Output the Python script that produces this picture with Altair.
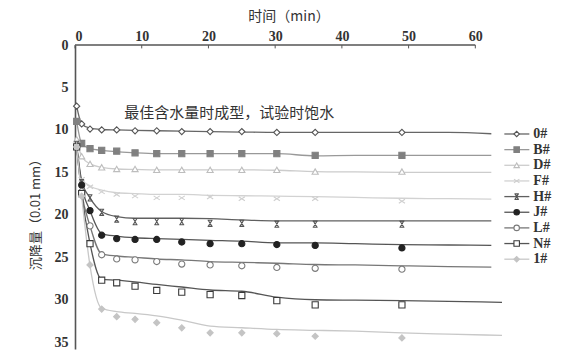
import altair as alt
import pandas as pd

# ---------------- data ----------------
SERIES = ["0#", "B#", "D#", "F#", "H#", "J#", "L#", "N#", "1#"]

# measured points (time in min)
T = [0.25, 1, 2.25, 4, 6.25, 9, 12.25, 16, 20.25, 25, 30.25, 36, 49]
P = {
    "0#": [7.2, 9.3, 9.9, 10.0, 10.0, 10.1, 10.1, 10.2, 10.2, 10.2, 10.3, 10.3, 10.3],
    "B#": [9.0, 11.6, 12.2, 12.4, 12.5, 12.7, 12.8, 12.8, 12.8, 12.8, 12.8, 13.0, 13.0],
    "D#": [11.1, 13.1, 14.0, 14.4, 14.6, 14.6, 14.7, 14.7, 14.7, 14.7, 14.7, 14.9, 14.9],
    "F#": [12.0, 15.8, 16.7, 17.3, 17.6, 17.8, 18.0, 18.0, 17.9, 18.1, 18.1, 18.1, 18.4],
    "H#": [11.7, 16.2, 18.0, 19.7, 20.5, 20.8, 20.8, 20.8, 21.0, 21.0, 21.1, 21.1, 21.1],
    "J#": [12.0, 16.5, 19.5, 22.4, 22.8, 22.9, 22.9, 23.2, 23.4, 23.4, 23.5, 23.6, 23.9],
    "L#": [12.0, 17.3, 21.3, 24.7, 25.2, 25.3, 25.5, 25.8, 25.9, 26.0, 26.2, 26.3, 26.4],
    "N#": [12.0, 17.5, 23.4, 27.7, 28.0, 28.4, 28.9, 29.1, 29.4, 29.5, 30.1, 30.6, 30.6],
    "1#": [12.0, 17.8, 25.9, 31.1, 32.0, 32.3, 32.7, 33.3, 33.9, 33.9, 34.0, 34.3, 34.5],
}

# fitted curves
LT_SHORT = [0.25, 1, 2.25, 4, 6.25, 9, 12.25, 16, 20.25, 25, 30.25, 36, 42, 49, 56, 62.4]
LT_LONG = [0.25, 1, 2.25, 4, 6.25, 9, 12.25, 16, 20.25, 25, 30.25, 36, 42, 49, 56, 64]
L = {
    "0#": [7.2, 9.3, 9.8, 9.95, 10.0, 10.05, 10.1, 10.15, 10.2, 10.25, 10.3, 10.3, 10.3, 10.3, 10.3, 10.45],
    "B#": [9.0, 11.6, 12.2, 12.4, 12.55, 12.7, 12.8, 12.8, 12.8, 12.8, 12.8, 13.05, 13.0, 13.0, 13.0, 13.0],
    "D#": [11.1, 13.1, 14.0, 14.4, 14.6, 14.65, 14.7, 14.7, 14.7, 14.7, 14.75, 14.9, 14.95, 15.0, 15.0, 15.0],
    "F#": [12.0, 15.8, 16.6, 17.1, 17.4, 17.5, 17.6, 17.6, 17.7, 17.75, 17.8, 17.85, 17.95, 18.05, 18.1, 18.15],
    "H#": [11.7, 16.0, 18.0, 19.6, 20.2, 20.4, 20.4, 20.4, 20.45, 20.6, 20.7, 20.7, 20.7, 20.7, 20.7, 20.7],
    "J#": [12.0, 16.5, 19.5, 22.2, 22.5, 22.7, 22.8, 22.9, 23.0, 23.1, 23.3, 23.3, 23.4, 23.5, 23.55, 23.6],
    "L#": [12.0, 17.3, 21.3, 24.6, 24.85, 25.0, 25.2, 25.3, 25.5, 25.6, 25.7, 25.85, 25.9, 26.0, 26.1, 26.15],
    "N#": [12.0, 17.5, 23.4, 27.6, 27.7, 27.9, 28.2, 28.5, 28.85, 29.0, 29.7, 30.0, 30.05, 30.1, 30.2, 30.3],
    "1#": [12.0, 17.8, 26.0, 31.0, 31.4, 31.6, 31.9, 32.4, 33.1, 33.3, 33.5, 33.6, 33.7, 33.9, 34.05, 34.2],
}
LONG_SERIES = ["N#", "1#"]

X_TICKS = [0, 10, 20, 30, 40, 50, 60]
Y_TICKS = [0, 5, 10, 15, 20, 25, 30, 35]
NOTE = "最佳含水量时成型，试验时饱水"

# ---------------- styles ----------------
CROSS = "M-1,-0.65L1,0.65M-1,0.65L1,-0.65"
STAR = "M-0.8,-1H0.8M-0.8,1H0.8M-0.6,-1L0.6,1M0.6,-1L-0.6,1"
SHAPES = ["diamond", "square", "triangle-up", CROSS, STAR, "circle", "circle", "square", "diamond"]
FILLS = ["white", "#808080", "white", "white", "white", "#222222", "white", "white", "#c4c4c4"]
STROKES = ["#555555", "#808080", "#bdbdbd", "#cfcfcf", "#555555", "#222222", "#7a7a7a", "#3a3a3a", "#c4c4c4"]
LINES = ["#666666", "#999999", "#cccccc", "#d2d2d2", "#606060", "#555555", "#777777", "#555555", "#c8c8c8"]

pts = pd.DataFrame([{"s": s, "t": t, "v": v} for s in SERIES for t, v in zip(T, P[s])])
lines = pd.DataFrame([
    {"s": s, "t": t, "v": v, "o": i}
    for s in SERIES
    for i, (t, v) in enumerate(zip(LT_LONG if s in LONG_SERIES else LT_SHORT, L[s]))
])

XMAX = 64
YMAX = 35.8
xs = alt.Scale(domain=[0, XMAX], nice=False, zero=False)
ys = alt.Scale(domain=[0, YMAX], nice=False, reverse=True)

shape_scale = alt.Scale(domain=SERIES, range=SHAPES)
fill_scale = alt.Scale(domain=SERIES, range=FILLS)
stroke_scale = alt.Scale(domain=SERIES, range=STROKES)
line_scale = alt.Scale(domain=SERIES, range=LINES)

NUMFONT = "Liberation Serif"
CJK = "Noto Sans CJK SC"

base_x = alt.X("t:Q", scale=xs, axis=alt.Axis(
    orient="top", values=X_TICKS, domain=False, ticks=False, grid=False,
    labelFont=NUMFONT, labelFontSize=14, labelFontWeight="bold", labelColor="#333",
    labelPadding=2, title="时间（min）", titleFont=CJK, titleFontSize=14,
    titleFontWeight="normal", titleColor="#333", titlePadding=6))
base_y = alt.Y("v:Q", scale=ys, axis=alt.Axis(
    values=Y_TICKS, domainColor="#555", domainWidth=1.6, ticks=False, grid=False,
    labelFont=NUMFONT, labelFontSize=14, labelFontWeight="bold", labelColor="#333",
    labelPadding=7, title="沉降量（0.01 mm）", titleFont=CJK, titleFontSize=13,
    titleFontWeight="normal", titleColor="#333", titleX=-40, titleY=166,
    titleAngle=270, titleAlign="center", titleBaseline="middle"))

line_layer = alt.Chart(lines).mark_line(strokeWidth=1.3, interpolate="monotone").encode(
    x=base_x, y=base_y, order="o:Q",
    color=alt.Color("s:N", scale=line_scale, legend=None),
)

pt_layer = alt.Chart(pts).mark_point(size=38, strokeWidth=1.1, opacity=1).encode(
    x="t:Q", y="v:Q",
    shape=alt.Shape("s:N", scale=shape_scale, legend=None),
    fill=alt.Fill("s:N", scale=fill_scale, legend=None),
    stroke=alt.Stroke("s:N", scale=stroke_scale, legend=None),
)

# top axis line (0-60 only) and inward ticks
axis_df = pd.DataFrame({"t": X_TICKS})
axis_line = alt.Chart(axis_df).mark_rule(color="#555", strokeWidth=1.6).encode(
    x=alt.X("min(t):Q"), x2=alt.X2("max(t):Q"), y=alt.datum(0))
axis_ticks = alt.Chart(axis_df).mark_rule(color="#555", strokeWidth=1).encode(
    x="t:Q", y=alt.datum(0), y2=alt.datum(0.4))

note = alt.Chart(pd.DataFrame({"txt": [NOTE]})).mark_text(
    font=CJK, fontSize=15, align="left", baseline="middle", color="#333").encode(
    x=alt.datum(7.4), y=alt.datum(8.0), text="txt:N")

# legend drawn beside the plot
LEG_Y0, LEG_DY = 10.48, 1.843
leg = pd.DataFrame({"s": SERIES, "y": [LEG_Y0 + i * LEG_DY for i in range(len(SERIES))]})
leg["x1"], leg["x2"], leg["xm"], leg["xt"] = 64.35, 68.1, 66.2, 68.7
leg_lines = alt.Chart(leg).mark_rule(strokeWidth=1.3).encode(
    x="x1:Q", x2="x2:Q", y="y:Q",
    color=alt.Color("s:N", scale=line_scale, legend=None))
leg_pts = alt.Chart(leg).mark_point(size=30, strokeWidth=1.1, opacity=1).encode(
    x="xm:Q", y="y:Q",
    shape=alt.Shape("s:N", scale=shape_scale, legend=None),
    fill=alt.Fill("s:N", scale=fill_scale, legend=None),
    stroke=alt.Stroke("s:N", scale=stroke_scale, legend=None))
leg_txt = alt.Chart(leg).mark_text(
    font=NUMFONT, fontSize=14, fontWeight="bold", align="left", baseline="middle", color="#333").encode(
    x="xt:Q", y="y:Q", text="s:N")

chart = alt.layer(
    line_layer, pt_layer, axis_line, axis_ticks, note, leg_lines, leg_pts, leg_txt
).properties(
    width=427, height=304,
    autosize=alt.AutoSizeParams(type="none"),
    padding={"left": 75, "top": 45, "right": 83, "bottom": 9},
    background="white",
).configure_view(stroke=None)

chart.save("out.html", embed_options={"renderer": "svg", "actions": False})
